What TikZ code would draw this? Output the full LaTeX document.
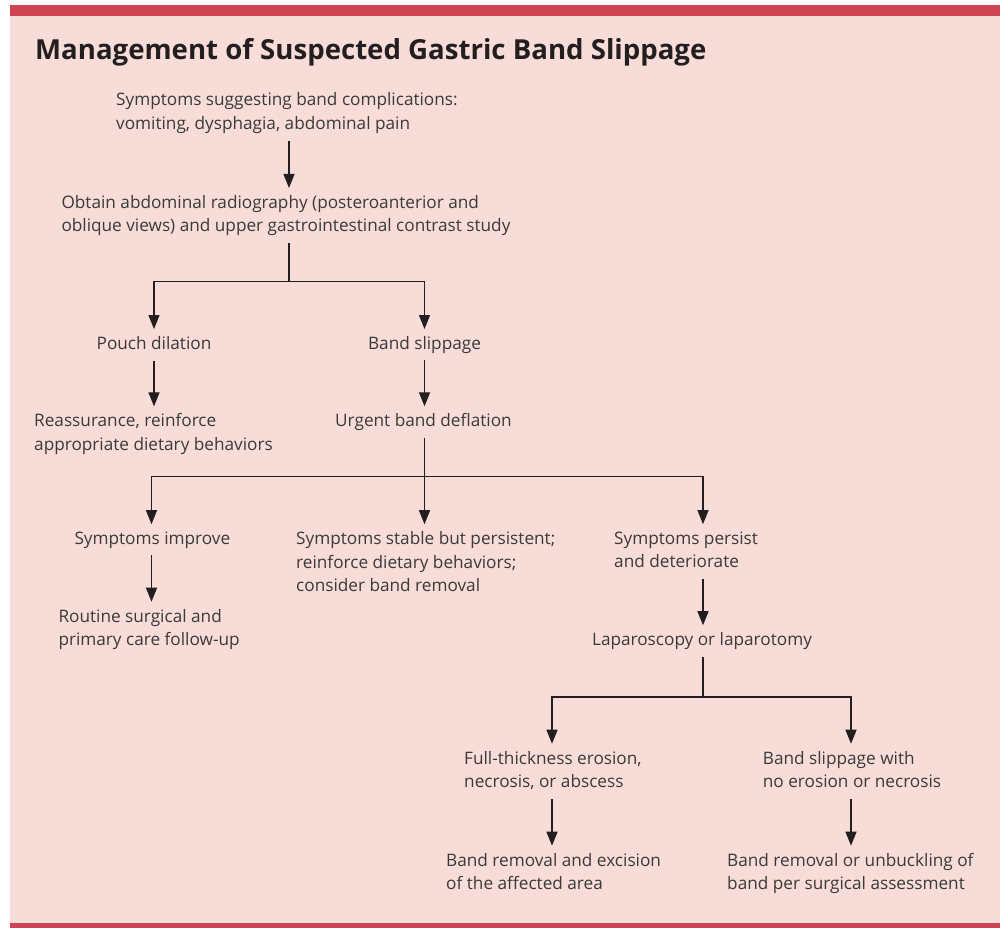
\documentclass[tikz,border=0pt]{standalone}
\usepackage{fontspec}
\setmainfont{Open Sans}
\usetikzlibrary{arrows.meta}
\definecolor{barred}{HTML}{CD4553}
\definecolor{bgpink}{HTML}{F8DCD8}
\definecolor{txtc}{HTML}{3A3A3A}
\definecolor{lnc}{HTML}{231F20}
\begin{document}
\begin{tikzpicture}[x=1pt,y=-1pt,
  lbl/.style={inner sep=0pt, anchor=base west, align=left,
    font=\fontsize{17.2}{23.5}\selectfont, text=txtc},
  ctr/.style={lbl, anchor=base, align=center},
  arr/.style={draw=lnc, line width=1.3pt, -{Triangle[length=14pt,width=11pt]}},
  conn/.style={draw=lnc, line width=1.3pt}]
\useasboundingbox (0,0) rectangle (1000,928);
\fill[bgpink] (10,16) rectangle (1000,923);
\fill[barred] (10,5) rectangle (1000,16);
\fill[barred] (10,923) rectangle (1000,928);

\node[inner sep=0pt, anchor=base west, font=\fontsize{27.6}{34}\selectfont\bfseries, text=lnc]
  (title) at (35,59.3) {Management of Suspected Gastric Band Slippage};

% multi-line nodes: base anchor = baseline of the last line
\node[lbl] (sym) at (116,129.5) {Symptoms suggesting band complications:\\vomiting, dysphagia, abdominal pain};
\node[lbl] (obt) at (61.3,231.7) {Obtain abdominal radiography (posteroanterior and\\oblique views) and upper gastrointestinal contrast study};
\node[ctr] (pouch) at (154,349.3) {Pouch dilation};
\node[ctr] (slip) at (424.5,349.3) {Band slippage};
\node[lbl] (reas) at (34,450.2) {Reassurance, reinforce\\appropriate dietary behaviors};
\node[lbl] (urg) at (335,426.7) {Urgent band deflation};
\node[lbl] (impr) at (74.3,544) {Symptoms improve};
\node[lbl] (stab) at (296,591.5) {Symptoms stable but persistent;\\reinforce dietary behaviors;\\consider band removal};
\node[lbl] (pers) at (614,567.5) {Symptoms persist\\and deteriorate};
\node[lbl] (rout) at (58.3,645.5) {Routine surgical and\\primary care follow-up};
\node[ctr] (lap) at (702,645.5) {Laparoscopy or laparotomy};
\node[lbl] (full) at (464,787.5) {Full-thickness erosion,\\necrosis, or abscess};
\node[lbl] (noer) at (762.7,787.5) {Band slippage with\\no erosion or necrosis};
\node[lbl] (exc) at (446,889.5) {Band removal and excision\\of the affected area};
\node[lbl] (unb) at (727,889.5) {Band removal or unbuckling of\\band per surgical assessment};

\coordinate (c1) at (289,0);
\coordinate (c2) at (154,0);
\coordinate (c3) at (424.5,0);
\coordinate (c4) at (151.5,0);
\coordinate (c5) at (703,0);
\coordinate (c6) at (552,0);
\coordinate (c7) at (851,0);
\coordinate (j1) at (289,281.7);
\coordinate (j2) at (424.5,476.7);
\coordinate (j3) at (703,697);

\draw[arr] ([yshift=-6.8pt]sym.south -| c1) -- ([yshift=7pt]obt.north -| c1);
\draw[conn] ([yshift=-6.8pt]obt.south -| c1) -- (j1);
\draw[arr] (j1) -| ([yshift=7pt]pouch.north -| c2);
\draw[arr] (j1) -| ([yshift=7pt]slip.north -| c3);
\draw[arr] ([yshift=-11pt]pouch.south -| c2) -- ([yshift=7pt]reas.north -| c2);
\draw[arr] ([yshift=-6.8pt]slip.south -| c3) -- ([yshift=7pt]urg.north -| c3);
\draw[conn] ([yshift=-6.8pt]urg.south -| c3) -- (j2);
\draw[arr] (j2) -- ([yshift=7pt]stab.north -| c3);
\draw[arr] (j2) -| ([yshift=7pt]impr.north -| c4);
\draw[arr] (j2) -| ([yshift=7pt]pers.north -| c5);
\draw[arr] ([yshift=-6.8pt]impr.south -| c4) -- ([yshift=7pt]rout.north -| c4);
\draw[arr] ([yshift=-11pt]pers.south -| c5) -- ([yshift=7pt]lap.north -| c5);
\draw[conn] ([yshift=-6.8pt]lap.south -| c5) -- (j3);
\draw[arr] (j3) -| ([yshift=7pt]full.north -| c6);
\draw[arr] (j3) -| ([yshift=7pt]noer.north -| c7);
\draw[arr] ([yshift=-9pt]full.south -| c6) -- ([yshift=7pt]exc.north -| c6);
\draw[arr] ([yshift=-11pt]noer.south -| c7) -- ([yshift=7pt]unb.north -| c7);
\end{tikzpicture}
\end{document}
